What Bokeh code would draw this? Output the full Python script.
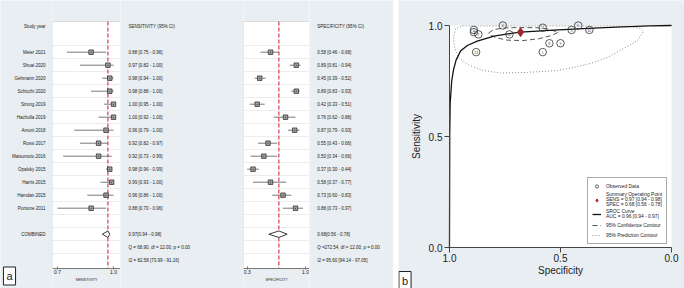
import numpy as np
from bokeh.plotting import figure
from bokeh.layouts import row
from bokeh.models import (Range1d, Label, Legend, LegendItem, FixedTicker, Spacer,
                          BoxAnnotation, PrintfTickFormatter)
from bokeh.core.properties import value
from bokeh.embed import file_html
from bokeh.resources import INLINE

# ---------------- data ----------------
studies = ["Meier 2021", "Shuai 2020", "Gehmann 2020", "Schicchi 2020", "Strong 2019",
           "Hachulla 2019", "Amoni 2018", "Rossi 2017", "Matsumoto 2016", "Opalsky 2015",
           "Harris 2015", "Hamdan 2015", "Pontone 2011"]
sens = [0.88, 0.97, 0.98, 0.98, 1.00, 1.00, 0.96, 0.92, 0.92, 0.98, 0.99, 0.96, 0.88]
sens_lo = [0.75, 0.82, 0.94, 0.88, 0.95, 0.92, 0.79, 0.82, 0.73, 0.96, 0.93, 0.86, 0.70]
sens_hi = [0.96, 1.00, 1.00, 1.00, 1.00, 1.00, 1.00, 0.97, 0.99, 0.99, 1.00, 1.00, 0.96]
spec = [0.58, 0.89, 0.45, 0.89, 0.42, 0.76, 0.87, 0.55, 0.50, 0.37, 0.58, 0.73, 0.88]
spec_lo = [0.46, 0.81, 0.39, 0.83, 0.33, 0.62, 0.79, 0.43, 0.34, 0.30, 0.37, 0.60, 0.73]
spec_hi = [0.68, 0.94, 0.52, 0.93, 0.51, 0.88, 0.93, 0.66, 0.66, 0.44, 0.77, 0.83, 0.97]
sens_pooled = [0.97, 0.94, 0.98]
spec_pooled = [0.68, 0.56, 0.78]
auc = [0.96, 0.94, 0.97]
sens_q = "Q = 68.90, df = 12.00, p = 0.00"
sens_i2 = "I2 = 82.58 [73.99 - 91.16]"
spec_q = "Q =272.54, df = 12.00, p = 0.00"
spec_i2 = "I2 = 95.60 [94.14 - 97.05]"
sens_ticks = [0.7, 1.0]
spec_ticks = [0.3, 1.0]
sroc_ticks = [1.0, 0.5, 0.0]

# SROC curve (specificity, sensitivity)
sroc_spec = [1.0, 0.999, 0.997, 0.99, 0.982, 0.97, 0.95, 0.92, 0.875, 0.80, 0.73, 0.68, 0.55, 0.40, 0.25, 0.10, 0.0]
sroc_sens = [0.0, 0.50, 0.65, 0.75, 0.80, 0.845, 0.885, 0.91, 0.93, 0.952, 0.963, 0.97, 0.978, 0.986, 0.993, 0.998, 1.0]
# 95% confidence contour
ci_spec = [0.824, 0.80, 0.75, 0.68, 0.61, 0.56, 0.51, 0.54, 0.60, 0.67, 0.74, 0.79, 0.82, 0.824]
ci_sens = [0.966, 0.982, 0.989, 0.991, 0.990, 0.985, 0.970, 0.955, 0.940, 0.932, 0.934, 0.945, 0.958, 0.966]
# 95% prediction contour
pred_spec = [0.941, 0.80, 0.55, 0.30, 0.185, 0.14, 0.126, 0.153, 0.216, 0.288, 0.365, 0.441, 0.514,
             0.667, 0.77, 0.847, 0.919, 0.959, 0.977, 0.982, 0.973, 0.941]
pred_sens = [0.998, 0.998, 0.998, 0.998, 0.997, 0.986, 0.973, 0.932, 0.896, 0.856, 0.829, 0.811, 0.797,
             0.788, 0.786, 0.797, 0.824, 0.856, 0.901, 0.946, 0.986, 0.998]

# ---------------- style / layout ----------------
BG = "#e8eef1"
RED = "#dc4a5c"
FONT = "Liberation Sans"
H = 288
TXT = "#222222"
FS = "4.5px"

n = len(studies)
rows = list(np.arange(n))
hdr_row = -2
comb_row = n + 1
q_row = n + 2
i2_row = n + 3

ROW0, ROWH = 51.7, 13.0      # pixel position of first row and row pitch
BOX_TOP, BOX_BOT = 21, 268   # white forest boxes


def ridx(py):
    return (py - ROW0) / ROWH


def fmt(v, lo, hi):
    return f"{v:.2f} [{lo:.2f} - {hi:.2f}]"


def base_fig(width, xr, yr, bg, axes=True):
    kw = {} if axes else dict(x_axis_location=None, y_axis_location=None)
    f = figure(width=width, height=H, x_range=xr, y_range=yr,
               output_backend="svg", toolbar_location=None,
               min_border=0, min_border_left=0, min_border_right=0,
               min_border_top=0, min_border_bottom=0,
               border_fill_color=BG, background_fill_color=bg, outline_line_color=None, **kw)
    f.grid.visible = False
    return f


def text_fig(width):
    return base_fig(width, Range1d(0, width), Range1d(ridx(H), ridx(0)), BG, axes=False)


def add_text(f, x, y, t, align="left", size=FS):
    f.text(x=x, y=y, text=t, text_font=value(FONT), text_font_size=size,
           text_align=align, text_baseline="middle", text_color=TXT)


def forest(width, xr, ticks, title, est, lo, hi, pooled):
    f = figure(width=width, height=H, x_range=Range1d(*xr), y_range=Range1d(ridx(H), ridx(0)),
               output_backend="svg", toolbar_location=None, y_axis_location=None,
               min_border=0, min_border_left=0, min_border_right=0,
               min_border_top=0, min_border_bottom=0,
               border_fill_color=BG, background_fill_color=BG, outline_line_color=None)
    f.grid.visible = False
    f.add_layout(BoxAnnotation(top=ridx(BOX_TOP), bottom=ridx(BOX_BOT), fill_color="white",
                               fill_alpha=1, line_color="#9a9a9a", line_width=1, level="underlay"))
    f.hspan(y=list(np.arange(-0.5, q_row + 1, 1.0)), line_color="#ececec", line_width=1)
    f.segment(x0=[pooled[0]], y0=[ridx(BOX_TOP)], x1=[pooled[0]], y1=[ridx(BOX_BOT)],
              line_color=RED, line_dash="4 2", line_width=1.3)
    f.segment(x0=lo, y0=rows, x1=hi, y1=rows, line_color="#555555", line_width=0.8)
    f.scatter(x=est, y=rows, marker="square_dot", size=4.5, fill_color="#a0a0a0",
              line_color="#222222", line_width=0.7)
    p_est, p_lo, p_hi = pooled
    f.patch(x=[p_lo, p_est, p_hi, p_est], y=[comb_row, comb_row - 0.25, comb_row, comb_row + 0.25],
            fill_color="white", line_color="#222222", line_width=0.9)
    ax = f.xaxis[0]
    ax.fixed_location = ridx(BOX_BOT)
    ax.ticker = FixedTicker(ticks=ticks)
    ax.formatter = PrintfTickFormatter(format="%.1f")
    ax.axis_label = title
    ax.axis_label_text_font = FONT
    ax.axis_label_text_font_size = "3.6px"
    ax.axis_label_text_font_style = "normal"
    ax.axis_label_standoff = 1
    ax.major_label_text_font = FONT
    ax.major_label_text_font_size = "5px"
    ax.major_label_standoff = 0
    ax.major_tick_out = 1
    ax.major_tick_in = 2
    ax.minor_tick_out = 0
    ax.minor_tick_in = 0
    ax.axis_line_color = "#777777"
    ax.major_tick_line_color = "#777777"
    ax.major_label_text_color = TXT
    ax.axis_label_text_color = TXT
    return f


# names column (0..52)
names = text_fig(52)
add_text(names, [45] * n, rows, studies, align="right")
add_text(names, [45], [hdr_row], ["Study year"], align="right")
add_text(names, [45], [comb_row], ["COMBINED"], align="right")
names.add_layout(Label(x=9, y=ridx(275.5), text="a", text_font=FONT, text_font_size="11px",
                       text_align="center", text_baseline="middle", text_color=TXT,
                       border_line_color="#222222", border_line_width=1,
                       background_fill_color="white", padding=3))

# sensitivity forest (52..120) + text (120..243)
sens_f = forest(68, (0.6732, 1.0375), sens_ticks, "SENSITIVITY", sens, sens_lo, sens_hi, sens_pooled)
sens_t = text_fig(123)
add_text(sens_t, [8] * n, rows, [fmt(a, b, c) for a, b, c in zip(sens, sens_lo, sens_hi)])
add_text(sens_t, [8], [hdr_row], ["SENSITIVITY (95% CI)"])
add_text(sens_t, [8], [comb_row], [f"{sens_pooled[0]:.2f}[{sens_pooled[1]:.2f} - {sens_pooled[2]:.2f}]"])
add_text(sens_t, [8], [q_row], [sens_q])
add_text(sens_t, [8], [i2_row], [sens_i2])

# specificity forest (243..309) + text (309..393)
spec_f = forest(66, (0.2556, 1.048), spec_ticks, "SPECIFICITY", spec, spec_lo, spec_hi, spec_pooled)
spec_t = text_fig(84)
add_text(spec_t, [7.7] * n, rows, [fmt(a, b, c) for a, b, c in zip(spec, spec_lo, spec_hi)])
add_text(spec_t, [7.7], [hdr_row], ["SPECIFICITY (95% CI)"])
add_text(spec_t, [7.7], [comb_row], [f"{spec_pooled[0]:.2f}[{spec_pooled[1]:.2f} - {spec_pooled[2]:.2f}]"])
add_text(spec_t, [7.7], [q_row], [spec_q])
add_text(spec_t, [7.7], [i2_row], [spec_i2])

# ---------------- panel b: SROC (398..684) ----------------
PB_W = 286
PX = 222.0                  # pixels per unit in the SROC plot
FR_L, FR_B, FR_T = 51, 247, 25   # position of the unit square in the panel
pb = base_fig(PB_W, Range1d(1 + FR_L / PX, 1 - (PB_W - FR_L) / PX),
              Range1d(-(H - FR_B) / PX, 1 + FR_T / PX), BG)
pb.add_layout(BoxAnnotation(left=1, right=0, bottom=0, top=1, fill_color="white", fill_alpha=1,
                            line_color=None, level="underlay"))
pb.xaxis[0].fixed_location = 0
pb.yaxis[0].fixed_location = 1
pb.xaxis[0].axis_label = "Specificity"
pb.yaxis[0].axis_label = "Sensitivity"
for ax in (pb.xaxis[0], pb.yaxis[0]):
    ax.bounds = (0, 1)
    ax.ticker = FixedTicker(ticks=sroc_ticks)
    ax.formatter = PrintfTickFormatter(format="%.1f")
    ax.major_label_text_font = FONT
    ax.major_label_text_font_size = "10px"
    ax.major_label_text_color = TXT
    ax.axis_label_text_font = FONT
    ax.axis_label_text_font_size = "10px"
    ax.axis_label_text_font_style = "normal"
    ax.axis_label_text_color = TXT
    ax.axis_line_color = "#444444"
    ax.major_tick_line_color = "#444444"
    ax.major_tick_out = 5
    ax.major_tick_in = 0
    ax.minor_tick_out = 0
    ax.minor_tick_in = 0
pb.xaxis[0].major_label_standoff = 1
pb.xaxis[0].axis_label_standoff = 0
pb.yaxis[0].major_label_standoff = 2
pb.yaxis[0].axis_label_standoff = 4
pb.yaxis[0].major_label_orientation = "horizontal"

pred_r = pb.line(pred_spec, pred_sens, line_color="#8a8a8a", line_dash="1 2", line_width=1)
ci_r = pb.line(ci_spec, ci_sens, line_color="#444444", line_dash="5 3", line_width=0.9)
sroc_r = pb.line(sroc_spec, sroc_sens, line_color="#111111", line_width=1.3)
obs_r = pb.scatter(spec, sens, marker="circle", size=7.5, fill_color="white", fill_alpha=0,
                   line_color="#333333", line_width=0.8)
pb.text(x=spec, y=sens, text=[str(i + 1) for i in range(n)], text_font=value(FONT),
        text_font_size="3.2px", text_align="center", text_baseline="middle", text_color="#333333")
summ_r = pb.scatter([spec_pooled[0]], [sens_pooled[0]], marker="diamond", size=9,
                    fill_color="#a3262e", line_color="#a3262e")

legend = Legend(items=[
    LegendItem(label="Observed Data", renderers=[obs_r]),
    LegendItem(label=("Summary Operating Point\n"
                      f"SENS = {sens_pooled[0]:.2f} [{sens_pooled[1]:.2f} - {sens_pooled[2]:.2f}]\n"
                      f"SPEC = {spec_pooled[0]:.2f} [{spec_pooled[1]:.2f} - {spec_pooled[2]:.2f}]"),
               renderers=[summ_r]),
    LegendItem(label=f"SROC Curve\nAUC = {auc[0]:.2f} [{auc[1]:.2f} - {auc[2]:.2f}]", renderers=[sroc_r]),
    LegendItem(label="95% Confidence Contour", renderers=[ci_r]),
    LegendItem(label="95% Prediction Contour", renderers=[pred_r]),
], location=(189, 44), margin=0, padding=4, spacing=2, label_standoff=5,
    glyph_width=9, glyph_height=8, label_height=6,
    label_text_font=FONT, label_text_font_size="4.9px", label_text_color=TXT,
    border_line_color="#555555", border_line_width=0.8, background_fill_color="white",
    background_fill_alpha=1)
pb.add_layout(legend)

pb.add_layout(Label(x=1 + FR_L / PX - 6.5 / PX, y=-(280 - FR_B) / PX, text="b", text_font=FONT,
                    text_font_size="11px", text_align="center", text_baseline="middle", text_color=TXT,
                    border_line_color="#222222", border_line_width=1,
                    background_fill_color="white", padding=3))

layout = row(names, sens_f, sens_t, spec_f, spec_t, Spacer(width=5, height=H), pb, spacing=0)

open("out.html", "w").write(file_html(layout, INLINE))
